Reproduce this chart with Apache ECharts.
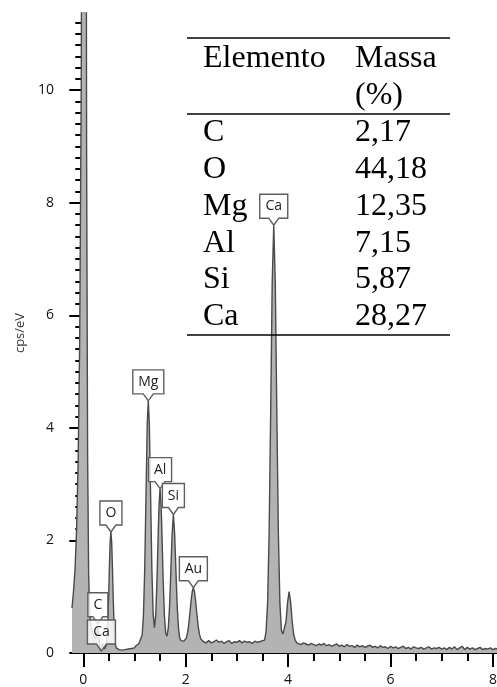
<!DOCTYPE html>
<html>
<head>
<meta charset="utf-8">
<script src="https://cdn.jsdelivr.net/npm/echarts@6/dist/echarts.min.js"></script>
<style>
html, body { margin: 0; padding: 0; background: #fff; }
#chart { width: 497px; height: 687px; }
</style>
</head>
<body>
<div id="chart"></div>
<script>
// EDS spectrum: [energy (keV), intensity (cps/eV)]
const spectrum = [
  // noise peak near 0 keV
  [-0.22,0.8],[-0.19,1.1],[-0.16,1.5],[-0.13,2.2],[-0.1,3.4],[-0.07,5.5],[-0.04,10],[-0.01,20],[0.02,40],
  [0.045,22],[0.065,9],[0.085,3.5],[0.105,1.4],[0.125,0.75],[0.15,0.5],[0.18,0.38],[0.21,0.3],[0.24,0.26],
  // C K / Ca L
  [0.265,0.36],[0.285,0.47],[0.305,0.3],[0.325,0.1],[0.34,0.04],[0.355,0.08],[0.375,0.18],[0.395,0.12],[0.415,0.07],
  // O K
  [0.435,0.08],[0.45,0.14],[0.465,0.27],[0.48,0.54],[0.495,0.97],[0.51,1.51],[0.525,1.97],[0.54,2.15],
  [0.555,1.97],[0.57,1.51],[0.585,0.97],[0.6,0.54],[0.615,0.27],[0.63,0.14],[0.645,0.09],
  [0.67,0.07],[0.7,0.06],[0.73,0.08],[0.76,0.05],[0.79,0.07],[0.82,0.06],[0.85,0.09],[0.88,0.07],[0.91,0.1],
  [0.94,0.08],[0.97,0.11],[1.0,0.09],[1.03,0.13],[1.06,0.12],[1.08,0.16],[1.1,0.2],[1.125,0.2],
  // Mg K
  [1.15,0.32],[1.175,0.66],[1.2,1.48],[1.225,2.8],[1.25,4.08],[1.27,4.48],[1.29,4.08],[1.315,2.8],[1.34,1.48],[1.365,0.69],[1.39,0.45],
  // Al K
  [1.415,0.67],[1.44,1.3],[1.465,2.17],[1.48,2.62],[1.5,2.92],[1.52,2.63],[1.535,2.18],[1.56,1.3],[1.585,0.66],[1.61,0.35],[1.635,0.3],
  // Si K
  [1.66,0.44],[1.685,0.82],[1.71,1.45],[1.735,2.11],[1.76,2.46],[1.785,2.11],[1.81,1.45],[1.835,0.82],[1.86,0.44],[1.885,0.26],[1.91,0.22],[1.935,0.19],[1.96,0.21],
  // Au M
  [1.985,0.23],[2.01,0.26],[2.035,0.35],[2.06,0.51],[2.085,0.73],[2.11,0.96],[2.13,1.1],[2.15,1.16],[2.17,1.1],[2.195,0.92],
  [2.22,0.68],[2.245,0.47],[2.27,0.33],[2.295,0.25],[2.32,0.22],
  [2.35,0.2],[2.4,0.18],[2.45,0.22],[2.5,0.18],[2.55,0.2],[2.6,0.23],[2.65,0.19],[2.7,0.21],[2.75,0.17],[2.8,0.2],
  [2.85,0.22],[2.9,0.17],[2.95,0.2],[3.0,0.19],[3.05,0.22],[3.1,0.18],[3.15,0.21],[3.2,0.19],[3.25,0.2],[3.3,0.17],
  [3.35,0.21],[3.4,0.19],[3.45,0.2],[3.5,0.22],[3.54,0.23],
  // Ca K-alpha / K-beta
  [3.57,0.38],[3.6,0.89],[3.63,2.14],[3.66,4.28],[3.69,6.58],[3.72,7.6],[3.75,6.58],[3.78,4.28],[3.81,2.14],[3.84,0.89],
  [3.87,0.4],[3.9,0.34],[3.93,0.36],[3.96,0.56],[3.99,0.9],[4.02,1.09],[4.05,0.9],[4.08,0.56],[4.11,0.32],[4.14,0.23],[4.17,0.18],
  // background
  [4.2,0.17],[4.25,0.15],[4.3,0.18],[4.35,0.16],[4.4,0.14],[4.45,0.17],[4.5,0.15],[4.55,0.13],[4.6,0.16],[4.65,0.14],
  [4.7,0.17],[4.75,0.13],[4.8,0.15],[4.85,0.12],[4.9,0.14],[4.95,0.16],[5.0,0.12],[5.05,0.14],[5.1,0.11],[5.15,0.15],
  [5.2,0.12],[5.25,0.13],[5.3,0.1],[5.35,0.14],[5.4,0.11],[5.45,0.13],[5.5,0.1],[5.55,0.12],[5.6,0.14],[5.65,0.1],
  [5.7,0.12],[5.75,0.09],[5.8,0.13],[5.85,0.1],[5.9,0.11],[5.95,0.08],[6.0,0.12],[6.05,0.09],[6.1,0.11],[6.15,0.08],
  [6.2,0.1],[6.25,0.12],[6.3,0.08],[6.35,0.1],[6.4,0.07],[6.45,0.11],[6.5,0.09],[6.55,0.08],[6.6,0.1],[6.65,0.07],
  [6.7,0.09],[6.75,0.11],[6.8,0.07],[6.85,0.09],[6.9,0.08],[6.95,0.1],[7.0,0.07],[7.05,0.09],[7.1,0.06],[7.15,0.1],
  [7.2,0.07],[7.25,0.11],[7.3,0.06],[7.35,0.09],[7.4,0.12],[7.45,0.06],[7.5,0.1],[7.55,0.07],[7.6,0.09],[7.65,0.06],
  [7.7,0.08],[7.75,0.1],[7.8,0.06],[7.85,0.08],[7.9,0.07],[7.95,0.09],[8.0,0.06],[8.05,0.08],[8.1,0.07]
];

// Peak identification callouts
const peakNames = ['C', 'Ca', 'O', 'Mg', 'Al', 'Si', 'Au', 'Ca'];
const peakKeV   = [0.285, 0.355, 0.54, 1.27, 1.50, 1.76, 2.15, 3.72];
const peakCps   = [0.52, 0.035, 2.15, 4.48, 2.92, 2.46, 1.16, 7.6];

// Quantification table
const tableHeader = ['Elemento', 'Massa', '(%)'];
const tableElements = ['C', 'O', 'Mg', 'Al', 'Si', 'Ca'];
const tableMass = ['2,17', '44,18', '12,35', '7,15', '5,87', '28,27'];

// Axis ticks
const xMajorTicks = [0, 2, 4, 6, 8];
const xMinorTicks = [0.5, 1, 1.5, 2.5, 3, 3.5, 4.5, 5, 5.5, 6.5, 7, 7.5];
const yMajorTicks = [0, 2, 4, 6, 8, 10];
const yMinorTicks = [];
for (let i = 1; i <= 56; i++) { if (i % 10 !== 0) yMinorTicks.push(+(i * 0.2).toFixed(1)); }

const X_MIN = -0.22, X_MAX = 8.08, Y_MIN = 0, Y_MAX = 11.37;
const tickFont = '"Open Sans", "DejaVu Sans", sans-serif';
const labelFont = '14px "Open Sans", sans-serif';

const measureCtx = document.createElement('canvas').getContext('2d');
measureCtx.font = labelFont;

function axisCommon(extra) {
  return Object.assign({
    type: 'value', min: X_MIN, max: X_MAX,
    splitLine: { show: false }
  }, extra);
}

const chart = echarts.init(document.getElementById('chart'), null, { renderer: 'canvas' });

// Table drawn as graphic text + rules
const tableGraphics = [];
const tLeft = 187, tRight = 450, col1 = 203, col2 = 355;
[38, 114, 335].forEach(y => tableGraphics.push({
  type: 'line', shape: { x1: tLeft, y1: y, x2: tRight, y2: y },
  style: { stroke: '#000', lineWidth: 1.6 }, z: 100
}));
const serif = '32px "Liberation Serif", "Times New Roman", serif';
const rowBase = [69, 106, 143, 180, 217, 254, 290, 327];
function cell(txt, x, baseline) {
  return { type: 'text', x: x, y: baseline - 10, z: 100,
    style: { text: txt, font: serif, fill: '#000', align: 'left', verticalAlign: 'middle' } };
}
tableGraphics.push(cell(tableHeader[0], col1, rowBase[0]));
tableGraphics.push(cell(tableHeader[1], col2, rowBase[0]));
tableGraphics.push(cell(tableHeader[2], col2, rowBase[1]));
tableElements.forEach((el, i) => {
  tableGraphics.push(cell(el, col1, rowBase[i + 2]));
  tableGraphics.push(cell(tableMass[i], col2, rowBase[i + 2]));
});

const option = {
  animation: false,
  backgroundColor: '#fff',
  grid: { left: 72, right: 0, top: 13, bottom: 34, containLabel: false, outerBoundsMode: 'none' },
  xAxis: [
    axisCommon({
      position: 'bottom',
      axisLine: { show: true, lineStyle: { color: '#000', width: 2 } },
      axisTick: { show: true, length: 14, customValues: xMajorTicks, lineStyle: { color: '#000', width: 2 } },
      axisLabel: { show: true, customValues: xMajorTicks, margin: 20, color: '#111',
        fontFamily: tickFont, fontSize: 14, hideOverlap: false }
    }),
    axisCommon({
      position: 'bottom',
      axisLine: { show: false },
      axisTick: { show: true, length: 8, customValues: xMinorTicks, lineStyle: { color: '#000', width: 2 } },
      axisLabel: { show: false }
    })
  ],
  yAxis: [
    {
      type: 'value', min: Y_MIN, max: Y_MAX, position: 'left',
      name: 'cps/eV', nameLocation: 'middle', nameGap: 43,
      nameTextStyle: { color: '#333', fontFamily: tickFont, fontSize: 13 },
      splitLine: { show: false },
      axisLine: { show: true, lineStyle: { color: '#000', width: 2 } },
      axisTick: { show: true, length: 14, customValues: yMajorTicks, lineStyle: { color: '#000', width: 2 } },
      axisLabel: { show: true, customValues: yMajorTicks, margin: 18, color: '#111',
        fontFamily: tickFont, fontSize: 14 }
    },
    {
      type: 'value', min: Y_MIN, max: Y_MAX, position: 'left',
      splitLine: { show: false },
      axisLine: { show: false },
      axisTick: { show: true, length: 8, customValues: yMinorTicks, lineStyle: { color: '#000', width: 2 } },
      axisLabel: { show: false }
    }
  ],
  graphic: tableGraphics,
  series: [
    {
      type: 'line',
      data: spectrum,
      xAxisIndex: 0, yAxisIndex: 0,
      showSymbol: false,
      clip: true,
      lineStyle: { color: '#4a4a4a', width: 1.4 },
      areaStyle: { color: '#b3b3b3', opacity: 1, origin: 'start' },
      z: 2
    },
    {
      type: 'custom',
      xAxisIndex: 0, yAxisIndex: 0,
      data: peakNames.map((n, i) => [peakKeV[i], peakCps[i], n]),
      z: 5,
      renderItem: function (params, api) {
        const pt = api.coord([api.value(0), api.value(1)]);
        const name = peakNames[params.dataIndex];
        const w = Math.round(measureCtx.measureText(name).width) + 11;
        const h = 24, ph = 7, pw = 5;
        const px = pt[0], py = pt[1];
        const L = px - w / 2, R = px + w / 2, B = py - ph, T = B - h;
        return {
          type: 'group',
          children: [
            { type: 'polygon',
              shape: { points: [[L, T], [R, T], [R, B], [px + pw, B], [px, py], [px - pw, B], [L, B]] },
              style: { fill: 'rgba(255,255,255,0.82)', stroke: '#5e5e5e', lineWidth: 1.4 } },
            { type: 'text', x: px, y: T + h / 2,
              style: { text: name, font: labelFont, fill: '#222', align: 'center', verticalAlign: 'middle',
                textAlign: 'center', textVerticalAlign: 'middle' } }
          ]
        };
      }
    }
  ]
};
chart.setOption(option);
</script>
</body>
</html>
